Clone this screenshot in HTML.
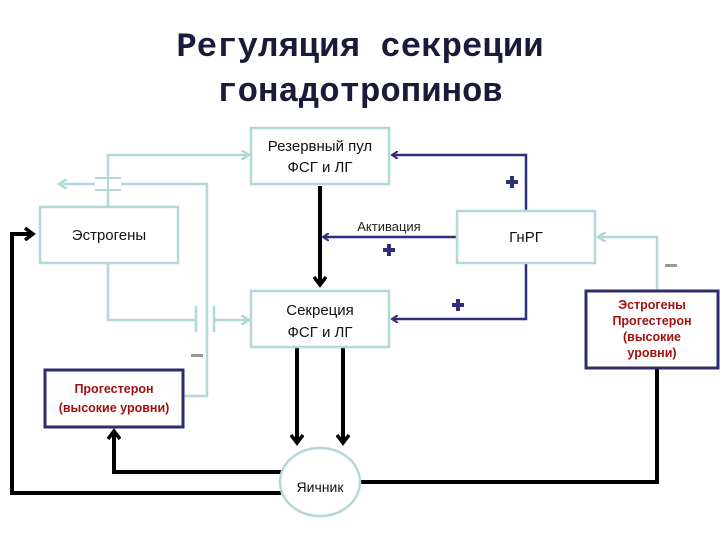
<!DOCTYPE html>
<html><head><meta charset="utf-8"><style>
body{margin:0;background:#fff;}
svg{display:block;}
</style></head><body>
<svg width="720" height="540" viewBox="0 0 720 540" xmlns="http://www.w3.org/2000/svg" font-family="Liberation Sans, sans-serif">
<defs>
<marker id="ab" markerWidth="14" markerHeight="14" refX="8" refY="7" orient="auto" markerUnits="userSpaceOnUse"><path d="M1,1 L9,7 L1,13" fill="none" stroke="#000" stroke-width="3.5"/></marker>
<marker id="an" markerWidth="8" markerHeight="8" refX="5" refY="4" orient="auto" markerUnits="userSpaceOnUse"><path d="M0,0 L6,4 L0,8" fill="none" stroke="#2e2e7a" stroke-width="2"/></marker>
<marker id="at" markerWidth="10" markerHeight="10" refX="7" refY="5" orient="auto" markerUnits="userSpaceOnUse"><path d="M0,0 L8,5 L0,10" fill="none" stroke="#b4d8d8" stroke-width="2.5"/></marker>
</defs>
<text x="360" y="56" font-family="Liberation Mono, monospace" font-size="34" font-weight="bold" text-anchor="middle" fill="#1a1a3a">Регуляция секреции</text>
<text x="360" y="101" font-family="Liberation Mono, monospace" font-size="34" font-weight="bold" text-anchor="middle" fill="#1a1a3a">гонадотропинов</text>

<g stroke="#b4d8d8" stroke-width="2.5" fill="none">
<path d="M108,207 V155 H248" marker-end="url(#at)"/>
<path d="M184,396 H207 V184 H60" marker-end="url(#at)"/>
<path d="M108,263 V320 H196"/>
<path d="M196,306 V332 M214,306 V332"/>
<path d="M214,320 H248" marker-end="url(#at)"/>
<path d="M657,291 V237 H599" marker-end="url(#at)"/>
</g>
<rect x="95" y="176" width="26" height="14" fill="#fff"/>
<path d="M95,178 H121 M95,190 H121" stroke="#b4d8d8" stroke-width="2"/>
<path d="M108,176 V192" stroke="#b4d8d8" stroke-width="2"/>

<g stroke="#2e2e7a" stroke-width="2.5" fill="none">
<path d="M526,211 V155 H393" marker-end="url(#an)"/>
<path d="M526,263 V319 H393" marker-end="url(#an)"/>
<path d="M457,237 H324" marker-end="url(#an)"/>
</g>
<g fill="#2e2e7a">
<rect x="506" y="180" width="12" height="4"/><rect x="510" y="176" width="4" height="12"/>
<rect x="383" y="248" width="12" height="4"/><rect x="387" y="244" width="4" height="12"/>
<rect x="452" y="303" width="12" height="4"/><rect x="456" y="299" width="4" height="12"/>
</g>
<rect x="191" y="354" width="12" height="3" fill="#999"/>
<rect x="665" y="264" width="12" height="3" fill="#999"/>
<text x="389" y="231" font-size="13" text-anchor="middle" fill="#222">Активация</text>

<g stroke="#000" stroke-width="4" fill="none">
<path d="M320,186 V284" marker-end="url(#ab)"/>
<path d="M297,348 V442" marker-end="url(#ab)"/>
<path d="M343,348 V442" marker-end="url(#ab)"/>
<path d="M281,472 H114 V432" marker-end="url(#ab)"/>
<path d="M281,493 H12 V234 H32" marker-end="url(#ab)"/>
<path d="M360,482 H657 V369"/>
</g>

<g fill="#fff" stroke="#b4d8d8" stroke-width="2.5">
<rect x="251" y="128" width="138" height="56"/>
<rect x="40" y="207" width="138" height="56"/>
<rect x="251" y="291" width="138" height="56"/>
<rect x="457" y="211" width="138" height="52"/>
<ellipse cx="320" cy="482" rx="40" ry="34"/>
</g>
<g fill="#fff" stroke="#2e2e6a" stroke-width="3">
<rect x="586" y="291" width="132" height="77"/>
<rect x="45" y="370" width="138" height="57"/>
</g>
<g font-size="15" text-anchor="middle" fill="#111">
<text x="320" y="151">Резервный пул</text>
<text x="320" y="172">ФСГ и ЛГ</text>
<text x="109" y="240">Эстрогены</text>
<text x="320" y="315">Секреция</text>
<text x="320" y="337">ФСГ и ЛГ</text>
<text x="526" y="242">ГнРГ</text>
<text x="320" y="492" font-size="14">Яичник</text>
</g>
<g font-size="12.5" text-anchor="middle" fill="#a01010" font-weight="bold">
<text x="652" y="309">Эстрогены</text>
<text x="652" y="325">Прогестерон</text>
<text x="652" y="341">(высокие</text>
<text x="652" y="357">уровни)</text>
<text x="114" y="393">Прогестерон</text>
<text x="114" y="412">(высокие уровни)</text>
</g>
</svg>
</body></html>
